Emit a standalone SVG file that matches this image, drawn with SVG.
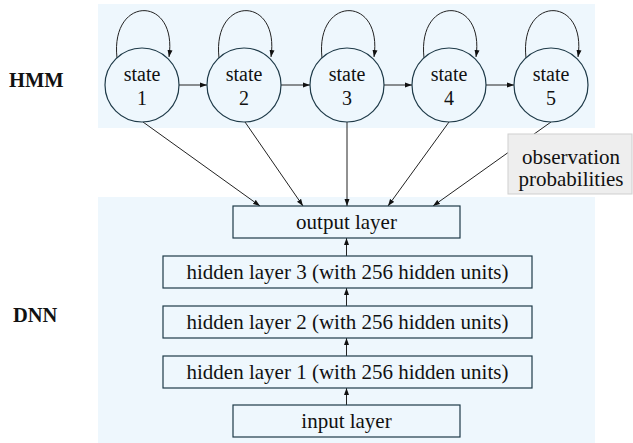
<svg xmlns="http://www.w3.org/2000/svg" width="633" height="443" viewBox="0 0 633 443">
<defs>
<style>
.bg{fill:#eef7fd;stroke:none}
.st{fill:#eef7fd;stroke:#1e3a48;stroke-width:1.2}
.box{fill:#eef7fd;stroke:#1e3a48;stroke-width:1.2}
.t{font-family:"Liberation Serif","Times New Roman",serif;font-size:21px;fill:#111;text-anchor:middle}
.s{font-size:20px}
.lbl{font-family:"Liberation Serif","Times New Roman",serif;font-size:20.5px;font-weight:bold;fill:#111}
.c{fill:none;stroke:#222;stroke-width:1}
</style>
<marker id="ah" markerUnits="userSpaceOnUse" markerWidth="8" markerHeight="6" refX="7" refY="3" orient="auto">
<path d="M0,0.5 L7,3 L0,5.5 z" fill="#111"/>
</marker>
</defs>
<rect class="bg" x="98" y="4" width="497" height="124"/>
<rect class="bg" x="98" y="197" width="497" height="246"/>
<text class="lbl" x="9" y="87">HMM</text>
<text class="lbl" x="13" y="322">DNN</text>
<g id="connectors">
<path class="c" marker-end="url(#ah)" d="M117,58 C110,-5 178,-5 169,57"/>
<path class="c" marker-end="url(#ah)" d="M219,58 C212,-5 280,-5 271,57"/>
<path class="c" marker-end="url(#ah)" d="M322,58 C315,-5 383,-5 374,57"/>
<path class="c" marker-end="url(#ah)" d="M424,58 C417,-5 485,-5 476,57"/>
<path class="c" marker-end="url(#ah)" d="M526,58 C519,-5 587,-5 578,57"/>
<line class="c" marker-end="url(#ah)" x1="179" y1="85" x2="207" y2="85"/>
<line class="c" marker-end="url(#ah)" x1="281" y1="85" x2="310" y2="85"/>
<line class="c" marker-end="url(#ah)" x1="384" y1="85" x2="412" y2="85"/>
<line class="c" marker-end="url(#ah)" x1="486" y1="85" x2="514" y2="85"/>
<line class="c" marker-end="url(#ah)" x1="143" y1="122" x2="260" y2="206"/>
<line class="c" marker-end="url(#ah)" x1="245" y1="122" x2="303" y2="206"/>
<line class="c" marker-end="url(#ah)" x1="347" y1="122" x2="347" y2="206"/>
<line class="c" marker-end="url(#ah)" x1="449" y1="122" x2="388" y2="206"/>
<line class="c" marker-end="url(#ah)" x1="551" y1="122" x2="433" y2="206"/>
<line class="c" marker-end="url(#ah)" x1="346.5" y1="256" x2="346.5" y2="238"/>
<line class="c" marker-end="url(#ah)" x1="346.5" y1="306" x2="346.5" y2="288"/>
<line class="c" marker-end="url(#ah)" x1="346.5" y1="356" x2="346.5" y2="338"/>
<line class="c" marker-end="url(#ah)" x1="346.5" y1="405" x2="346.5" y2="388"/>
</g>
<g id="state1"><circle class="st" cx="142" cy="85" r="37"/><text class="t s" x="142" y="81">state</text><text class="t s" x="142" y="105">1</text></g>
<g id="state2"><circle class="st" cx="244" cy="85" r="37"/><text class="t s" x="244" y="81">state</text><text class="t s" x="244" y="105">2</text></g>
<g id="state3"><circle class="st" cx="347" cy="85" r="37"/><text class="t s" x="347" y="81">state</text><text class="t s" x="347" y="105">3</text></g>
<g id="state4"><circle class="st" cx="449" cy="85" r="37"/><text class="t s" x="449" y="81">state</text><text class="t s" x="449" y="105">4</text></g>
<g id="state5"><circle class="st" cx="551" cy="85" r="37"/><text class="t s" x="551" y="81">state</text><text class="t s" x="551" y="105">5</text></g>
<g id="obs"><rect x="508" y="134" width="124" height="60" fill="#eeeeee" stroke="#cfcfcf" stroke-width="1"/><text class="t" x="571" y="164">observation</text><text class="t" x="571" y="186">probabilities</text></g>
<g id="output"><rect class="box" x="233" y="206" width="227" height="32"/><text class="t" x="346.5" y="229">output layer</text></g>
<g id="hidden3"><rect class="box" x="163" y="256" width="369" height="32"/><text class="t" x="347.5" y="279">hidden layer 3 (with 256 hidden units)</text></g>
<g id="hidden2"><rect class="box" x="163" y="306" width="369" height="32"/><text class="t" x="347.5" y="329">hidden layer 2 (with 256 hidden units)</text></g>
<g id="hidden1"><rect class="box" x="163" y="356" width="369" height="32"/><text class="t" x="347.5" y="379">hidden layer 1 (with 256 hidden units)</text></g>
<g id="input"><rect class="box" x="233" y="405" width="227" height="32"/><text class="t" x="346.5" y="428">input layer</text></g>
</svg>
